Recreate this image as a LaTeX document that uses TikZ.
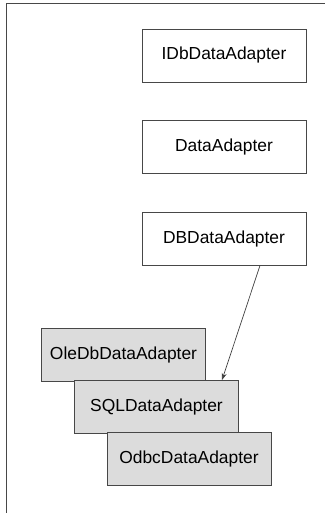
\documentclass[tikz,border=0pt]{standalone}
\usepackage{fontspec}
\setmainfont{Liberation Sans}
\usetikzlibrary{arrows.meta}
\definecolor{edge}{HTML}{474747}
\definecolor{boxfill}{HTML}{DCDCDC}
\begin{document}
\begin{tikzpicture}[x=1pt,y=-1pt,
  plainbox/.style={draw=edge,line width=0.9pt,fill=white,minimum width=164pt,minimum height=53pt,inner sep=0pt,font=\fontsize{17.4}{20}\selectfont},
  greybox/.style={plainbox,fill=boxfill},
  frameline/.style={draw=edge,line width=1pt},
  link/.style={draw=black!75,line width=0.7pt,-{Stealth[length=7pt,width=5pt]}}]
\useasboundingbox (0,0) rectangle (325,513);
\coordinate (fa) at (6,513);
\coordinate (fb) at (6,3.5);
\coordinate (fc) at (325,3.5);
\draw[frameline] (fa) -- (fb) -- (fc);
\node[plainbox] (idb) at (224,55.5) {IDbDataAdapter};
\node[plainbox] (da) at (224,147) {DataAdapter};
\node[plainbox] (dbda) at (224,238.5) {DBDataAdapter};
\node[greybox] (ole) at (123.5,354.5) {OleDbDataAdapter};
\node[greybox] (sql) at (156.5,407) {SQLDataAdapter};
\node[greybox] (odbc) at (189,459) {OdbcDataAdapter};
\draw[link] (dbda.south -| 260,0) -- (sql.north -| 222,0);
\end{tikzpicture}
\end{document}
